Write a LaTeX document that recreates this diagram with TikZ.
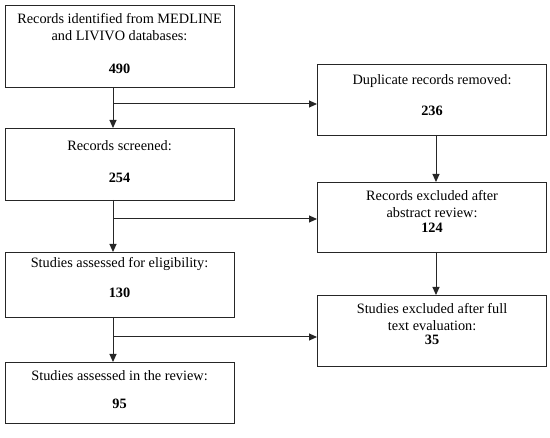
\documentclass[tikz,border=0pt]{standalone}
\usepackage{fontspec}
\setmainfont{Liberation Serif}
\usetikzlibrary{arrows.meta}
\begin{document}
\begin{tikzpicture}[x=1pt,y=-1pt,
  box/.style={draw=black!85,line width=1.1pt,minimum width=229pt,minimum height=#1,inner sep=0pt,anchor=north west},
  txt/.style={font=\fontsize{14.3}{17}\selectfont,align=center,inner sep=0pt,anchor=north},
  conn/.style={draw=black!85,line width=1pt},
  arr/.style={conn,-{Triangle[length=8pt,width=7pt]}}]
\useasboundingbox (0,0) rectangle (550,438);
% left column
\node[box=82pt] (A) at (4.5,5) {};
\node[txt] (At) at ([yshift=-8pt]A.north) {Records identified from MEDLINE\\and LIVIVO databases:\\[16pt]\textbf{490}};
\node[box=72pt] (B) at (4.5,128) {};
\node[txt] (Bt) at ([yshift=-12pt]B.north) {Records screened:\\[15pt]\textbf{254}};
\node[box=65pt] (F) at (4.5,252) {};
\node[txt] (Ft) at ([yshift=-5pt]F.north) {Studies assessed for eligibility:\\[13pt]\textbf{130}};
\node[box=61pt] (G) at (4.5,362) {};
\node[txt] (Gt) at ([yshift=-8pt]G.north) {Studies assessed in the review:\\[11pt]\textbf{95}};
% right column
\node[box=71pt] (D) at (317,64) {};
\node[txt] (Dt) at ([yshift=-10pt]D.north) {Duplicate records removed:\\[14pt]\textbf{236}};
\node[box=70pt] (E) at (317,182) {};
\node[txt] (Et) at ([yshift=-8pt]E.north) {Records excluded after\\abstract review:\\[-2pt]\textbf{124}};
\node[box=71pt] (H) at (317,295) {};
\node[txt] (Ht) at ([yshift=-8pt]H.north) {Studies excluded after full\\text evaluation:\\[-3pt]\textbf{35}};
% connectors
\coordinate (a0) at (113,87);
\coordinate (j1) at (113,104);
\coordinate (b0) at (113,200);
\coordinate (j2) at (113,219);
\coordinate (f0) at (113,317);
\coordinate (j3) at (113,337);
\draw[arr] (a0) -- (a0 |- B.north);
\draw[arr] (j1) -- (j1 -| D.west);
\draw[arr] (b0) -- (b0 |- F.north);
\draw[arr] (j2) -- (j2 -| E.west);
\draw[arr] (f0) -- (f0 |- G.north);
\draw[arr] (j3) -- (j3 -| H.west);
\coordinate (d0) at (436,135);
\coordinate (e0) at (436,252);
\draw[arr] (d0) -- (d0 |- E.north);
\draw[arr] (e0) -- (e0 |- H.north);
\end{tikzpicture}
\end{document}
